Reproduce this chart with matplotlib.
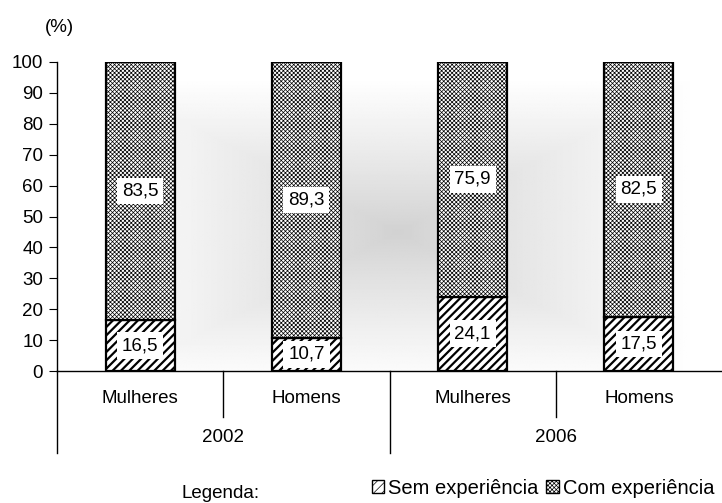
import numpy as np
import matplotlib
matplotlib.use('Agg')
import matplotlib.pyplot as plt
from matplotlib.patches import Patch

plt.rcParams['font.family'] = ['Liberation Sans', 'DejaVu Sans']

grupos = ['Mulheres', 'Homens', 'Mulheres', 'Homens']
anos = ['2002', '2006']
sem_exp = [16.5, 10.7, 24.1, 17.5]
com_exp = [83.5, 89.3, 75.9, 82.5]

def fmt(v):
    return f'{v:.1f}'.replace('.', ',')

fs = 13.5

fig = plt.figure(figsize=(7.22, 5.03), dpi=100)
ax = fig.add_axes([57 / 722, 1 - 371 / 503, 665 / 722, 309 / 503])

x = np.arange(len(grupos))
ax.set_xlim(-0.5, len(grupos) - 0.5)
ax.set_ylim(0, 100)

# fundo com degradê a partir do centro
gx, gy = np.meshgrid(np.linspace(-0.5, 3.5, 400), np.linspace(0, 100, 300))
t = np.maximum(np.abs(gx - 1.55) / 1.8, np.abs(gy - 45) / 50)
shade = 0.82 + 0.18 * np.clip(t, 0, 1) ** 0.9
ax.imshow(shade, extent=(-0.5, 3.5, 0, 100), origin='lower', cmap='gray',
          vmin=0, vmax=1, aspect='auto', zorder=0)

w = 0.415
plt.rcParams['hatch.linewidth'] = 1.6
b1 = ax.bar(x, sem_exp, w, color='white', edgecolor='black', hatch='////',
            linewidth=1.6, zorder=2)
plt.rcParams['hatch.linewidth'] = 0.5
b2 = ax.bar(x, com_exp, w, bottom=sem_exp, color='white', edgecolor='black',
            hatch='xxxxxxxx', linewidth=1.6, zorder=2)

box = dict(facecolor='white', edgecolor='none', pad=3.5)
for i in range(len(grupos)):
    ax.text(x[i], sem_exp[i] / 2, fmt(sem_exp[i]), ha='center', va='center',
            fontsize=fs, bbox=box, zorder=3)
    ax.text(x[i], sem_exp[i] + com_exp[i] / 2, fmt(com_exp[i]), ha='center',
            va='center', fontsize=fs, bbox=box, zorder=3)

for s in ['top', 'right']:
    ax.spines[s].set_visible(False)
ax.spines['left'].set_linewidth(1)
ax.spines['bottom'].set_linewidth(1)
ax.set_yticks(range(0, 101, 10))
ax.tick_params(axis='y', direction='out', length=6, labelsize=fs, pad=4)
ax.set_xticks([])

# eixo de categorias em dois níveis
tr = ax.get_xaxis_transform()
for i, g in enumerate(grupos):
    ax.text(x[i], -0.09, g, transform=tr, ha='center', va='center', fontsize=fs)
for k, a in enumerate(anos):
    ax.text(0.5 + 2 * k, -0.216, a, transform=tr, ha='center', va='center',
            fontsize=fs)
for xs in [0.5, 2.5]:
    ax.plot([xs, xs], [0, -0.15], transform=tr, color='black', lw=1, clip_on=False)
for xs in [-0.5, 1.5]:
    ax.plot([xs, xs], [0, -0.265], transform=tr, color='black', lw=1, clip_on=False)

fig.text(59 / 722, 1 - 27 / 503, '(%)', ha='center', va='center', fontsize=fs)
fig.text(221 / 722, 1 - 493 / 503, 'Legenda:', ha='center', va='center', fontsize=fs)

plt.rcParams['hatch.linewidth'] = 1.0
h1 = Patch(facecolor='white', edgecolor='black', hatch='////', label='Sem experiência')
plt.rcParams['hatch.linewidth'] = 0.5
h2 = Patch(facecolor='white', edgecolor='black', hatch='xxxxxxxx', label='Com experiência')
fig.legend(handles=[h1, h2], loc='center', bbox_to_anchor=(543 / 722, 1 - 488 / 503),
           ncol=2, frameon=False, fontsize=14.5, handlelength=0.6, handleheight=0.6,
           handletextpad=0.2, columnspacing=0.4, borderpad=0)

fig.savefig('out.png', dpi=100)
